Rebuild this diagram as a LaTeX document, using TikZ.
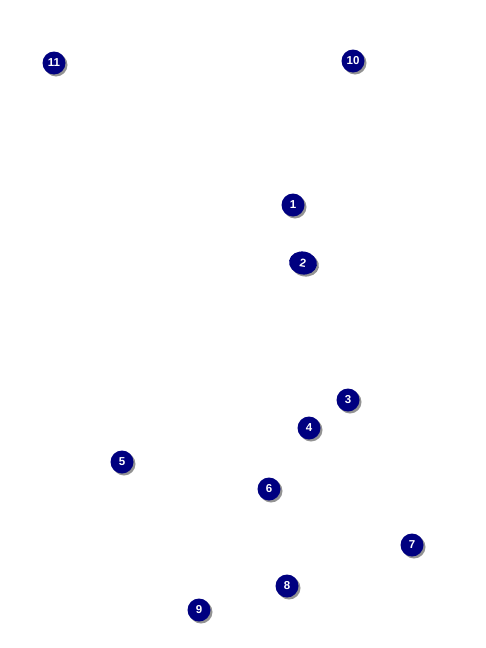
\documentclass[tikz,border=0pt]{standalone}
\usepackage{fontspec}
\setmainfont{Liberation Sans}
\usetikzlibrary{shadows,shapes.geometric}
\definecolor{callnavy}{RGB}{0,0,128}
\definecolor{callshade}{RGB}{120,120,120}
\tikzset{
  callout/.style={circle,fill=callnavy,text=white,minimum size=23pt,inner sep=0pt,
                  font=\fontsize{11.5}{12}\selectfont\bfseries,
                  drop shadow={shadow xshift=2pt,shadow yshift=-2pt,fill=callshade,opacity=0.8}},
  calloutwide/.style={callout,ellipse,minimum width=28pt,minimum height=23pt,rotate=-10},
}
\begin{document}
\begin{tikzpicture}[x=1pt,y=-1pt]
  \path[use as bounding box,fill=white] (0,0) rectangle (486,648);

  \node[callout] (m11) at (54,63) {11};
  \node[callout] (m10) at (353,61) {10};
  \node[callout] (m1) at (293,205) {1};
  \node[calloutwide] (m2) at (303,263) {2};
  \node[callout] (m3) at (348,400) {3};
  \node[callout] (m4) at (309,428) {4};
  \node[callout] (m5) at (122,462) {5};
  \node[callout] (m6) at (269,489) {6};
  \node[callout] (m7) at (412,545) {7};
  \node[callout] (m8) at (287,586) {8};
  \node[callout] (m9) at (199,610) {9};
\end{tikzpicture}
\end{document}
